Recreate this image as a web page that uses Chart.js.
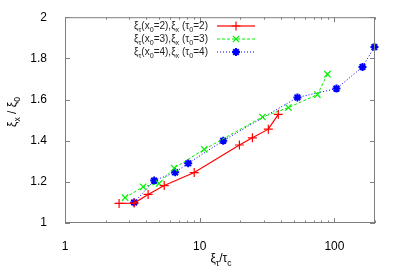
<!DOCTYPE html>
<html>
<head>
<meta charset="utf-8">
<script src="https://cdn.jsdelivr.net/npm/chart.js@4/dist/chart.umd.min.js"></script>
<style>
  html, body { margin: 0; padding: 0; background: #fff; }
  #wrap { width: 399px; height: 279px; }
</style>
</head>
<body>
<div id="wrap"><canvas id="xiChart" width="399" height="279"></canvas></div>
<script>
// values
const redX = [2.52, 3.26, 4.14, 5.45, 9.1, 19.7, 24.6, 32.3, 38.3];
const redY = [1.095, 1.097, 1.139, 1.182, 1.245, 1.379, 1.414, 1.456, 1.528];
const greenX = [2.79, 3.80, 5.0, 6.46, 10.8, 29.2, 45.5, 74.7, 88.7];
const greenY = [1.123, 1.176, 1.192, 1.267, 1.358, 1.515, 1.561, 1.624, 1.723];
const blueX = [3.26, 4.59, 6.57, 8.21, 14.95, 53.1, 103.5, 161.5, 198];
const blueY = [1.100, 1.206, 1.246, 1.290, 1.400, 1.610, 1.653, 1.758, 1.855];

const xMajor = [1, 10, 100];
const xMinor = [2, 3, 4, 5, 6, 7, 8, 9, 20, 30, 40, 50, 60, 70, 80, 90, 200];
const yTicks = [1, 1.2, 1.4, 1.6, 1.8, 2];

// legend labels as pieces: [text, isSubscript]
const legendParts = [
    [['ξ', 0], ['τ', 1], ['(x', 0], ['0', 1], ['=2),ξ', 0], ['x', 1], [' (τ', 0], ['0', 1], ['=2)', 0]],
    [['ξ', 0], ['τ', 1], ['(x', 0], ['0', 1], ['=3),ξ', 0], ['x', 1], [' (τ', 0], ['0', 1], ['=3)', 0]],
    [['ξ', 0], ['τ', 1], ['(x', 0], ['0', 1], ['=4),ξ', 0], ['x', 1], [' (τ', 0], ['0', 1], ['=4)', 0]]
];
const xTitleParts = [['ξ', 0], ['τ', 1], ['/τ', 0], ['c', 1]];
const yTitleParts = [['ξ', 0], ['x', 1], [' / ξ', 0], ['0', 1]];

const FONT = '"Liberation Sans", Arial, sans-serif';
const AXIS = '#7f7f7f';
const colors = ['#ff0000', '#00f000', '#0000ff'];
const dashes = [[], [3, 2], [1, 2]];
const marks = ['cross', 'crossRot', 'star'];

function pts(xs, ys) {
    return xs.map((x, i) => ({ x: x, y: ys[i] }));
}

// text with subscripts
function richWidth(ctx, parts, size) {
    let w = 0;
    parts.forEach(p => {
        ctx.font = (p[1] ? size * 0.72 : size) + 'px ' + FONT;
        w += ctx.measureText(p[0]).width;
    });
    return w;
}
function drawRich(ctx, parts, x, y, size) {
    ctx.textAlign = 'left';
    ctx.textBaseline = 'alphabetic';
    parts.forEach(p => {
        ctx.font = (p[1] ? size * 0.72 : size) + 'px ' + FONT;
        ctx.fillText(p[0], x, y + (p[1] ? size * 0.3 : 0));
        x += ctx.measureText(p[0]).width;
    });
}

const framePlugin = {
    id: 'frame',
    afterDraw(chart) {
        const ctx = chart.ctx;
        const a = chart.chartArea;
        const xs = chart.scales.x, ys = chart.scales.y;
        ctx.save();
        ctx.strokeStyle = AXIS;
        ctx.lineWidth = 1;
        ctx.strokeRect(a.left + 0.5, a.top + 0.5, a.right - a.left - 1, a.bottom - a.top - 1);
        ctx.beginPath();
        const xt = (v, len) => {
            const p = Math.round(xs.getPixelForValue(v)) + 0.5;
            ctx.moveTo(p, a.bottom); ctx.lineTo(p, a.bottom - len);
            ctx.moveTo(p, a.top); ctx.lineTo(p, a.top + len);
        };
        xMajor.forEach(v => xt(v, 5));
        xMinor.forEach(v => xt(v, 2.5));
        yTicks.forEach(v => {
            const p = Math.round(ys.getPixelForValue(v)) + 0.5;
            ctx.moveTo(a.left, p); ctx.lineTo(a.left + 5, p);
            ctx.moveTo(a.right, p); ctx.lineTo(a.right - 5, p);
        });
        ctx.stroke();

        // axis titles
        ctx.fillStyle = '#000';
        const tw = richWidth(ctx, xTitleParts, 12);
        drawRich(ctx, xTitleParts, 221 - tw / 2, 262, 12);
        ctx.save();
        ctx.translate(16, 112);
        ctx.rotate(-Math.PI / 2);
        const yw = richWidth(ctx, yTitleParts, 12);
        drawRich(ctx, yTitleParts, -yw / 2, 0, 12);
        ctx.restore();
        ctx.restore();
    }
};

const legendPlugin = {
    id: 'keybox',
    afterDraw(chart) {
        const ctx = chart.ctx;
        const rows = [26, 39, 52];
        for (let i = 0; i < 3; i++) {
            const y = rows[i];
            ctx.save();
            const w = richWidth(ctx, legendParts[i], 10);
            ctx.fillStyle = '#222';
            drawRich(ctx, legendParts[i], 208 - w, y + 3, 10);
            // line sample
            ctx.fillStyle = colors[i];
            if (i === 0) {
                ctx.fillRect(217, y - 0.6, 38, 1.2);
            } else {
                const on = dashes[i][0], off = dashes[i][1];
                for (let x = 217; x < 255; x += on + off) {
                    ctx.fillRect(x, y - 0.5, Math.min(on, 255 - x), 1);
                }
            }
            ctx.strokeStyle = colors[i];
            ctx.lineWidth = i === 2 ? 2 : 1.2;
            Chart.helpers.drawPoint(ctx, {
                pointStyle: marks[i], rotation: 0, radius: i === 2 ? 4 : 4.5, borderWidth: ctx.lineWidth
            }, 236, y);
            ctx.restore();
        }
    }
};

const ctx = document.getElementById('xiChart').getContext('2d');
const xiChart = new Chart(ctx, {
    type: 'scatter',
    data: {
        datasets: [
            {
                label: 'x0=2',
                data: pts(redX, redY),
                showLine: true,
                borderColor: colors[0],
                backgroundColor: colors[0],
                borderWidth: 1.2,
                pointStyle: marks[0],
                pointRadius: 4.5,
                pointBorderWidth: 1.2,
                clip: false
            },
            {
                label: 'x0=3',
                data: pts(greenX, greenY),
                showLine: true,
                borderColor: colors[1],
                backgroundColor: colors[1],
                borderWidth: 1,
                borderDash: dashes[1],
                pointStyle: marks[1],
                pointRadius: 4.5,
                pointBorderWidth: 1.2,
                clip: false
            },
            {
                label: 'x0=4',
                data: pts(blueX, blueY),
                showLine: true,
                borderColor: colors[2],
                backgroundColor: colors[2],
                borderWidth: 1,
                borderDash: dashes[2],
                pointStyle: marks[2],
                pointRadius: 4,
                pointBorderWidth: 2,
                clip: false
            }
        ]
    },
    options: {
        responsive: false,
        animation: false,
        layout: { padding: { left: 0, right: 24, top: 15, bottom: 0 } },
        plugins: { legend: { display: false }, tooltip: { enabled: false } },
        scales: {
            x: {
                type: 'logarithmic',
                min: 1,
                max: 200,
                afterBuildTicks: s => { s.ticks = xMajor.map(v => ({ value: v })); },
                afterFit: s => { s.height = 56; },
                grid: { display: false },
                border: { display: false },
                ticks: {
                    autoSkip: false,
                    maxRotation: 0,
                    padding: 8,
                    color: '#000',
                    font: { family: FONT, size: 12 },
                    callback: v => String(v)
                }
            },
            y: {
                min: 1,
                max: 2,
                afterBuildTicks: s => { s.ticks = yTicks.map(v => ({ value: v })); },
                afterFit: s => { s.width = 65; },
                grid: { display: false },
                border: { display: false },
                ticks: {
                    padding: 10,
                    color: '#000',
                    font: { family: FONT, size: 12 },
                    callback: v => String(Number(v.toFixed(1)))
                }
            }
        }
    },
    plugins: [framePlugin, legendPlugin]
});
</script>
</body>
</html>
